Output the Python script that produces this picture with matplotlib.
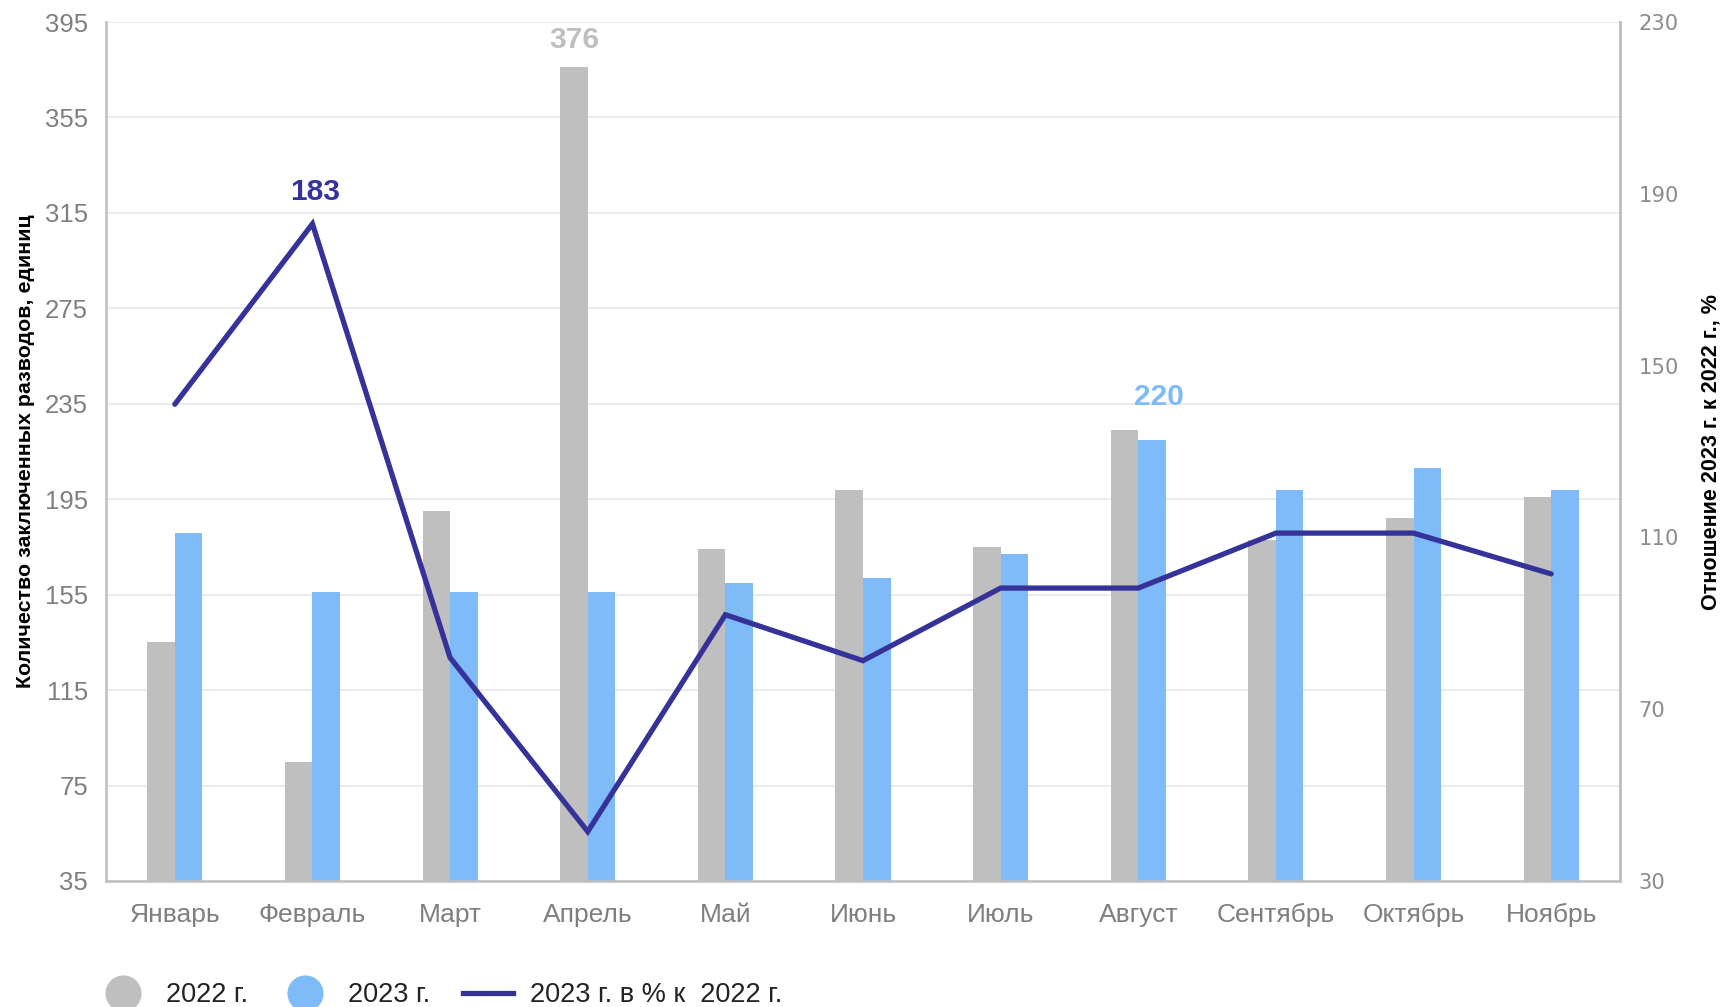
import matplotlib
matplotlib.use("Agg")
import matplotlib.pyplot as plt
from matplotlib.lines import Line2D
import numpy as np

months = ["Январь", "Февраль", "Март", "Апрель", "Май", "Июнь", "Июль",
          "Август", "Сентябрь", "Октябрь", "Ноябрь"]
y2022 = [135, 85, 190, 376, 174, 199, 175, 224, 178, 187, 196]
y2023 = [181, 156, 156, 156, 160, 162, 172, 220, 199, 208, 199]
ratio = [141, 183, 82, 41.5, 92, 81.3, 98.2, 98.2, 111, 111, 101.5]
left_ticks = [35, 75, 115, 155, 195, 235, 275, 315, 355, 395]
right_ticks = [30, 70, 110, 150, 190, 230]

GRAY = "#BFBFBF"
BLUE = "#7FBAF9"
NAVY = "#35339A"
TICK = "#7F7F7F"

plt.rcParams["font.family"] = ["Liberation Sans", "DejaVu Sans"]

W, H = 1721, 1007
fig = plt.figure(figsize=(W / 100, H / 100), dpi=100)
ax = fig.add_axes([106 / W, 1 - 881 / H, (1620 - 106) / W, (881 - 22) / H])
ax2 = ax.twinx()

x = np.arange(len(months))
bw = 0.2
ax.bar(x - bw / 2, y2022, width=bw, color=GRAY, zorder=2)
ax.bar(x + bw / 2, y2023, width=bw, color=BLUE, zorder=2)
ax.set_ylim(35, 395)
ax.set_yticks(left_ticks)
ax.set_xlim(-0.5, len(months) - 0.5)
ax.set_xticks(x)
ax.set_xticklabels(months)
ax.grid(axis="y", color="#E8E8E8", linewidth=1.2, zorder=0)
ax.set_axisbelow(True)
ax.tick_params(axis="both", length=0, labelcolor=TICK)
ax.tick_params(axis="y", pad=13, labelsize=18.5)
ax.tick_params(axis="x", pad=16, labelsize=19)
for s in ["top"]:
    ax.spines[s].set_visible(False)
    ax2.spines[s].set_visible(False)
for s in ["left", "bottom", "right"]:
    ax.spines[s].set_color(GRAY)
    ax.spines[s].set_linewidth(1.8)
ax2.spines["right"].set_color(GRAY)
ax2.spines["right"].set_linewidth(1.8)
ax2.spines["left"].set_visible(False)
ax2.spines["bottom"].set_visible(False)

ax2.plot(x, ratio, color=NAVY, linewidth=3.8, solid_capstyle="round",
         solid_joinstyle="miter", zorder=3)
ax2.set_ylim(30, 230)
ax2.set_yticks(right_ticks)
ax2.tick_params(axis="y", length=0, labelsize=15.2, labelcolor="#8C8C8C", pad=13.5)
for lab in ax2.get_yticklabels():
    lab.set_family("DejaVu Sans")

ax.set_ylabel("Количество заключенных разводов, единиц", fontsize=15.4,
              fontweight="bold", color="black")
ax.yaxis.set_label_coords(-(106 - 35) / (1620 - 106), 0.5)
ax2.set_ylabel("Отношение 2023 г. к 2022 г., %", fontsize=15.6,
               fontweight="bold", color="black", rotation=90)
ax2.yaxis.set_label_coords(1 + (1700 - 1620) / (1620 - 106), 0.5)

# value labels
ax.annotate(str(y2022[3]), (x[3] - bw / 2, y2022[3]), xytext=(0, 20),
            textcoords="offset points", ha="center", va="center",
            fontsize=21.5, fontweight="bold", color=GRAY)
ax2.annotate(str(int(round(ratio[1]))), (x[1], ratio[1]), xytext=(2, 23),
             textcoords="offset points", ha="center", va="center",
             fontsize=21.5, fontweight="bold", color=NAVY)
ax.annotate(str(y2023[7]), (x[7] + bw / 2, y2023[7]), xytext=(5, 31),
            textcoords="offset points", ha="center", va="center",
            fontsize=21.5, fontweight="bold", color=BLUE)

handles = [
    Line2D([], [], linestyle="none", marker="o", markersize=25,
           markerfacecolor=GRAY, markeredgecolor=GRAY),
    Line2D([], [], linestyle="none", marker="o", markersize=25,
           markerfacecolor=BLUE, markeredgecolor=BLUE),
    Line2D([], [], color=NAVY, linewidth=3.8),
]
labels = ["2022 г.", "2023 г.", "2023 г. в % к  2022 г."]
leg = fig.legend(handles, labels, loc="center left", ncol=3,
                 bbox_to_anchor=(98 / W, 1 - 995 / H), frameon=False,
                 fontsize=19.5, handlelength=1.85, handletextpad=0.65,
                 columnspacing=1.2, borderpad=0, borderaxespad=0)
for t in leg.get_texts():
    t.set_color("#222222")

fig.savefig("out.png", dpi=100)
